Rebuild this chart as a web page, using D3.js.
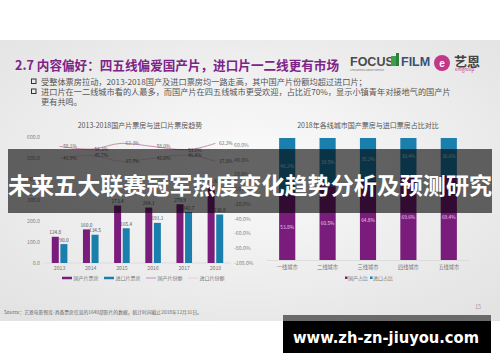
<!DOCTYPE html>
<html lang="zh">
<head>
<meta charset="UTF-8">
<title>Chart</title>
<script src="https://cdnjs.cloudflare.com/ajax/libs/d3/7.8.5/d3.min.js"></script>
<style>
  body{ margin:0; background:#fff; }
  svg{ display:block; font-family:"Noto Sans CJK SC","Noto Sans",sans-serif; }
</style>
</head>
<body>
<svg id="chart" width="500" height="362"></svg>
<script>
// ---- data ----
const years = ["2013","2014","2015","2016","2017","2018"];
const domesticBox = [124.8, 160.0, 273.4, 264.1, 279.9, 370.6];
const importBox = [90.0, 134.5, 165.4, 191.1, 242.7, 230.8];
const domesticShare = [58.1, 54.3, 62.3, 58.0, 53.6, 62.2];
const importShare = [41.9, 45.7, 37.7, 42.0, 46.4, 37.8];
const leftTicks = [0, 100, 200, 300, 400, 500, 600];
const rightTicks = [-100, -80, -60, -40, -20, 0, 20, 40, 60];
const leftLegend = ["国产片票房", "进口片票房", "国产片份额", "进口片份额"];

const cities = ["一线城市", "二线城市", "三线城市", "四线城市", "五线城市"];
const cityDomestic = [53.8, 60.5, 64.8, 69.6, 69.4];
const cityImport = [46.2, 39.5, 35.2, 30.4, 30.6];
const rightLegend = ["国产占比", "进口占比"];

const bullets = [
  "受整体票房拉动，2013-2018国产及进口票房均一路走高，其中国产片份额均超过进口片；",
  "进口片在一二线城市看的人最多，而国产片在四五线城市更受欢迎，占比近70%，显示小镇青年对接地气的国产片",
  "更有共鸣。"
];

const purple = "#7a1c7c", blue = "#1b7fae", pinkLine = "#cf8db5", pinkLight = "#ecc8dc";

const svg = d3.select("#chart");
const defs = svg.append("defs");
const grad = defs.append("radialGradient").attr("id","bg").attr("cx","50%").attr("cy","45%").attr("r","70%");
grad.append("stop").attr("offset","0%").attr("stop-color","#fbfbfb");
grad.append("stop").attr("offset","100%").attr("stop-color","#e3e3e3");

// slide background
svg.append("rect").attr("x",0).attr("y",40).attr("width",500).attr("height",281).attr("fill","url(#bg)");

// title
svg.append("text").attr("x",15).attr("y",70).attr("font-size",12.6).attr("font-weight","bold")
  .attr("fill","#7e2388").text("2.7 内容偏好：四五线偏爱国产片，进口片一二线更有市场");

// logos
svg.append("text").attr("x",350).attr("y",66).attr("font-family","Liberation Sans, Arial").attr("font-weight","bold")
  .attr("font-size",12.5).attr("fill","#4a4a4a").text("FOCUS");
svg.append("rect").attr("x",391).attr("y",56).attr("width",5).attr("height",10).attr("fill","#3aa04a");
svg.append("rect").attr("x",396).attr("y",53).attr("width",3).attr("height",13).attr("fill","#2f7f3c");
svg.append("text").attr("x",401).attr("y",66).attr("font-family","Liberation Sans, Arial").attr("font-weight","bold")
  .attr("font-size",12.5).attr("fill","#36507a").text("FILM");
svg.append("text").attr("x",350).attr("y",71).attr("font-size",2.2).attr("fill","#666").text("A FOCUSMEDIA GROUP COMPANY");
svg.append("circle").attr("cx",442).attr("cy",63).attr("r",8).attr("fill","#c2378a");
svg.append("text").attr("x",442).attr("y",66.5).attr("text-anchor","middle").attr("font-family","Liberation Sans, Arial")
  .attr("font-weight","bold").attr("font-size",10).attr("fill","#fff").text("e");
svg.append("text").attr("x",454).attr("y",66).attr("font-size",13).attr("font-weight","bold").attr("fill","#444").text("艺恩");
svg.append("text").attr("x",455).attr("y",71).attr("font-size",4.5).attr("fill","#c2378a").text("entgroup");

// bullets
bullets.forEach((t,i)=>{
  if(i<2){
    svg.append("rect").attr("x",31.5).attr("y",79 + i*10).attr("width",4.5).attr("height",4.5)
      .attr("fill","none").attr("stroke","#333").attr("stroke-width",1);
  }
  svg.append("text").attr("x",41).attr("y",84.5 + i*10).attr("font-size",8.2).attr("fill","#555").text(t);
});

// ---------- left chart ----------
const lx = d3.scaleBand().domain(years).range([44, 231]);
const ly = d3.scaleLinear().domain([0, 600]).range([263, 137]);
const ry = d3.scaleLinear().domain([-100, 60]).range([263, 145]);
const bw = 7;

svg.append("text").attr("x",140).attr("y",128).attr("text-anchor","middle").attr("font-size",7)
  .attr("fill","#555").text("2013-2018国产片票房与进口片票房趋势");

const left = svg.append("g");
left.selectAll(".lt").data(leftTicks).join("text")
  .attr("x",40).attr("y",d=>ly(d)+1.8).attr("text-anchor","end").attr("font-size",5.2).attr("fill","#888")
  .text(d=>d.toFixed(1));
left.selectAll(".rt").data(rightTicks).join("text")
  .attr("x",234).attr("y",d=>ry(d)+1.8).attr("font-size",5.2).attr("fill","#888")
  .text(d=>d.toFixed(1)+"%");

left.append("line").attr("x1",44).attr("x2",231).attr("y1",263).attr("y2",263).attr("stroke","#d8d8d8").attr("stroke-width",0.8);

const cx = y => lx(y) + lx.bandwidth()/2;
left.selectAll(".bd").data(years).join("rect")
  .attr("x",(d)=>cx(d)-bw-0.8).attr("width",bw)
  .attr("y",(d,i)=>ly(domesticBox[i])).attr("height",(d,i)=>263-ly(domesticBox[i])).attr("fill",purple);
left.selectAll(".bi").data(years).join("rect")
  .attr("x",(d)=>cx(d)+0.8).attr("width",bw)
  .attr("y",(d,i)=>ly(importBox[i])).attr("height",(d,i)=>263-ly(importBox[i])).attr("fill",blue);
left.selectAll(".ld").data(years).join("text")
  .attr("x",d=>cx(d)-bw/2-0.8).attr("y",(d,i)=>ly(domesticBox[i])-2.5).attr("text-anchor","middle")
  .attr("font-size",4.8).attr("fill","#555").text((d,i)=>domesticBox[i].toFixed(1));
left.selectAll(".li").data(years).join("text")
  .attr("x",d=>cx(d)+bw/2+0.8).attr("y",(d,i)=>ly(importBox[i])-2.5).attr("text-anchor","middle")
  .attr("font-size",4.8).attr("fill","#555").text((d,i)=>importBox[i].toFixed(1));

const line = (arr) => d3.line().x((d,i)=>cx(years[i])).y(d=>ry(d)).curve(d3.curveMonotoneX)(arr);
left.append("path").attr("d",line(importShare)).attr("fill","none").attr("stroke",pinkLight).attr("stroke-width",1);
left.append("path").attr("d",line(domesticShare)).attr("fill","none").attr("stroke",pinkLine).attr("stroke-width",1);
[[domesticShare,pinkLine],[importShare,pinkLight]].forEach(([arr])=>{
  left.selectAll(null).data(arr).join("text")
    .attr("x",(d,i)=>cx(years[i])+10.5).attr("y",d=>ry(d)+1.8).attr("text-anchor","middle")
    .attr("font-size",4.8).attr("fill","#666").text(d=>d.toFixed(1)+"%");
});

left.selectAll(".xl").data(years).join("text")
  .attr("x",d=>cx(d)).attr("y",270).attr("text-anchor","middle").attr("font-size",5.2).attr("fill","#777").text(d=>d);

const lLegX = [62, 104, 146, 188];
const lLegCol = [purple, blue, pinkLine, pinkLight];
leftLegend.forEach((t,i)=>{
  left.append("line").attr("x1",lLegX[i]).attr("x2",lLegX[i]+10).attr("y1",278).attr("y2",278)
    .attr("stroke",lLegCol[i]).attr("stroke-width",i<2?2.5:1);
  left.append("text").attr("x",lLegX[i]+11.5).attr("y",279.8).attr("font-size",5).attr("fill","#777").text(t);
});

// ---------- right chart ----------
const rx = d3.scaleBand().domain(cities).range([267, 469]).paddingInner(0.6).paddingOuter(0.3);
const py = d3.scaleLinear().domain([0, 100]).range([260, 138]);

svg.append("text").attr("x",368).attr("y",128).attr("text-anchor","middle").attr("font-size",7)
  .attr("fill","#555").text("2018年各线城市国产票房与进口票房占比对比");

const right = svg.append("g");
right.selectAll(".rd").data(cities).join("rect")
  .attr("x",d=>rx(d)).attr("width",rx.bandwidth())
  .attr("y",(d,i)=>py(cityDomestic[i])).attr("height",(d,i)=>260-py(cityDomestic[i])).attr("fill",purple);
right.selectAll(".ri").data(cities).join("rect")
  .attr("x",d=>rx(d)).attr("width",rx.bandwidth())
  .attr("y",(d,i)=>py(100)).attr("height",(d,i)=>py(cityDomestic[i])-py(100)).attr("fill",blue);
right.selectAll(".rdl").data(cities).join("text")
  .attr("x",d=>rx(d)+rx.bandwidth()/2).attr("y",(d,i)=>py(cityDomestic[i]/2)+1.7).attr("text-anchor","middle")
  .attr("font-size",4.8).attr("fill","#e6d0e6").text((d,i)=>cityDomestic[i].toFixed(1)+"%");
right.selectAll(".ril").data(cities).join("text")
  .attr("x",d=>rx(d)+rx.bandwidth()/2).attr("y",(d,i)=>py(cityDomestic[i]+cityImport[i]/2)+1.7).attr("text-anchor","middle")
  .attr("font-size",4.8).attr("fill","#cfe3ee").text((d,i)=>cityImport[i].toFixed(1)+"%");
right.append("line").attr("x1",267).attr("x2",469).attr("y1",260.5).attr("y2",260.5).attr("stroke","#d8d8d8").attr("stroke-width",0.8);
right.selectAll(".cx").data(cities).join("text")
  .attr("x",d=>rx(d)+rx.bandwidth()/2).attr("y",269).attr("text-anchor","middle").attr("font-size",5.2).attr("fill","#777").text(d=>d);
rightLegend.forEach((t,i)=>{
  const x0 = 345 + i*25;
  right.append("rect").attr("x",x0).attr("y",276.5).attr("width",2.5).attr("height",2.5).attr("fill",i?blue:purple);
  right.append("text").attr("x",x0+3).attr("y",279.8).attr("font-size",5).attr("fill","#777").text(t);
});

// footer
svg.append("text").attr("x",4).attr("y",314).attr("font-size",4.8).attr("fill","#666")
  .text("Source：艺恩电影智库-具备票房信息的1640部影片的数据，统计时间截止2018年12月31日。");
svg.append("text").attr("x",478).attr("y",309).attr("text-anchor","middle").attr("font-size",5.5).attr("fill","#999").text("15");

// banner overlay
svg.append("rect").attr("x",8).attr("y",149).attr("width",484).attr("height",64).attr("fill","rgba(0,0,0,0.6)");
svg.append("text").attr("x",250).attr("y",184).attr("text-anchor","middle").attr("dominant-baseline","central")
  .attr("font-size",23).attr("font-weight","bold").attr("fill","#fff")
  .attr("textLength",484).attr("lengthAdjust","spacingAndGlyphs")
  .text("未来五大联赛冠军热度变化趋势分析及预测研究");

// url box
svg.append("rect").attr("x",283).attr("y",315).attr("width",208).attr("height",38).attr("fill","#000");
svg.append("rect").attr("x",283).attr("y",315).attr("width",208).attr("height",6).attr("fill","#6a6a6a");
svg.append("text").attr("x",386).attr("y",338).attr("text-anchor","middle").attr("dominant-baseline","central")
  .attr("font-family","DejaVu Sans, sans-serif").attr("font-weight","bold").attr("font-size",15).attr("fill","#fff")
  .attr("textLength",186).attr("lengthAdjust","spacingAndGlyphs").text("www.zh-zn-jiuyou.com");
</script>
</body>
</html>
